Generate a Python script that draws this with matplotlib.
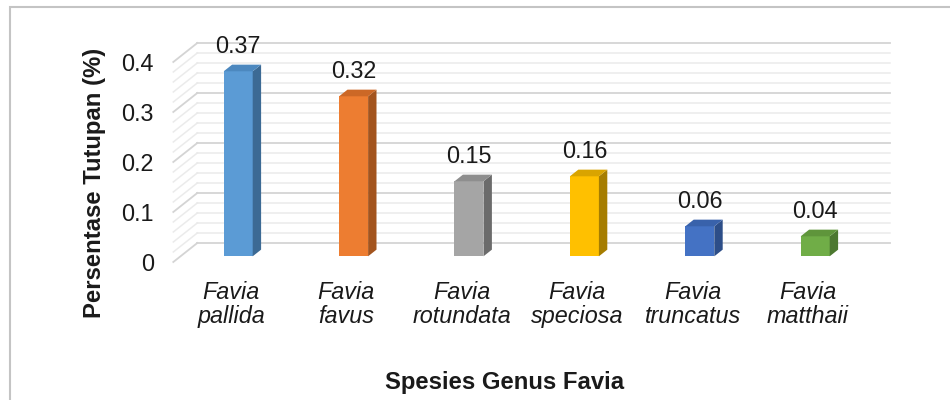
import os

os.environ.setdefault("MPLBACKEND", "Agg")

import matplotlib.pyplot as plt
from matplotlib.patches import Polygon, Rectangle
import numpy as np

species = ["pallida", "favus", "rotundata", "speciosa", "truncatus", "matthaii"]
cover = [0.37, 0.32, 0.15, 0.16, 0.06, 0.04]
value_labels = ["0.37", "0.32", "0.15", "0.16", "0.06", "0.04"]
y_ticks = [0, 0.1, 0.2, 0.3, 0.4]
y_ticklabels = ["0", "0.1", "0.2", "0.3", "0.4"]

# front / side / top shades, Excel 3D style
FACE = ["#5B9BD5", "#ED7D31", "#A5A5A5", "#FFC000", "#4472C4", "#70AD47"]
SIDE = ["#3C6A94", "#A3541E", "#6B6B6B", "#A67D00", "#2D4E88", "#4C7830"]
TOP = ["#4C88BF", "#CC6826", "#8E8E8E", "#D9A400", "#3962AB", "#5F953B"]

TXT = "#1a1a1a"
FONT = "Liberation Sans"
plt.rcParams["font.family"] = [FONT, "DejaVu Sans"]

fig = plt.figure(figsize=(9.5, 4), dpi=100)
# front plane of the 3D box
ax = fig.add_axes([173.3 / 950, 138 / 400, 692.4 / 950, 200 / 400])
ax.set_xlim(-0.5, 5.5)
ax.set_ylim(0, 0.4)
for s in ax.spines.values():
    s.set_visible(False)

# depth of the box in data units (24 px right, 19 px up)
px_x = 6 / 692.4
px_y = 0.4 / 200
wall_dx, wall_dy = 24 * px_x, 19 * px_y

# back wall + left side wall gridlines
for k in range(21):
    v = k * 0.02
    major = k % 5 == 0
    c = "#d4d4d4" if major else "#ebebeb"
    lw = 1.3 if major else 1.1
    ax.plot([-0.5 + wall_dx, 5.5 + wall_dx], [v + wall_dy, v + wall_dy],
            color=c, lw=lw, clip_on=False, zorder=0)
    ax.plot([-0.5, -0.5 + wall_dx], [v, v + wall_dy],
            color=c, lw=lw, clip_on=False, zorder=0)

# bars at mid depth
fx, fy = 0.30 * wall_dx, 0.30 * wall_dy
bx, by = 0.65 * wall_dx, 0.65 * wall_dy
width = 29 * px_x
x = np.arange(len(species))
ax.bar(x + fx, cover, width=width, bottom=fy, color=FACE, zorder=3)
for i, v in enumerate(cover):
    xl = i + fx - width / 2
    xr = i + fx + width / 2
    side = [(xr, fy), (xr + bx - fx, by), (xr + bx - fx, v + by), (xr, v + fy)]
    top = [(xl, v + fy), (xr, v + fy), (xr + bx - fx, v + by), (xl + bx - fx, v + by)]
    ax.add_patch(Polygon(side, closed=True, fc=SIDE[i], ec="none", zorder=3, clip_on=False))
    ax.add_patch(Polygon(top, closed=True, fc=TOP[i], ec="none", zorder=3, clip_on=False))
    ax.annotate(value_labels[i], (i + fx, v + fy), xytext=(0, 25),
                textcoords="offset pixels", ha="center", va="center",
                fontsize=16.8, color=TXT, annotation_clip=False)

ax.set_yticks(y_ticks)
ax.set_yticklabels(y_ticklabels)
ax.set_xticks(x)
ax.set_xticklabels([f"Favia\n{s}" for s in species], fontstyle="italic",
                   linespacing=1.05)
ax.tick_params(axis="y", length=0, pad=14, labelsize=16.8, labelcolor=TXT)
ax.tick_params(axis="x", length=0, pad=14, labelsize=16.8, labelcolor=TXT)

fig.text(505 / 950, 1 - 382 / 400, "Spesies Genus Favia", ha="center", va="center",
         fontsize=17.2, fontweight="bold", color=TXT)
fig.text(95 / 950, 1 - 183 / 400, "Persentase Tutupan (%)", ha="center", va="center",
         rotation=90, fontsize=17.2, fontweight="bold", color=TXT)

# chart area border (only top and left edge fall inside the picture)
fig.patches.append(Rectangle((10 / 950, -0.1), 1.2, 1.1 - 7 / 400, transform=fig.transFigure,
                             fill=False, ec="#c4c4c4", lw=1.5))

fig.savefig("out.png", dpi=100)
